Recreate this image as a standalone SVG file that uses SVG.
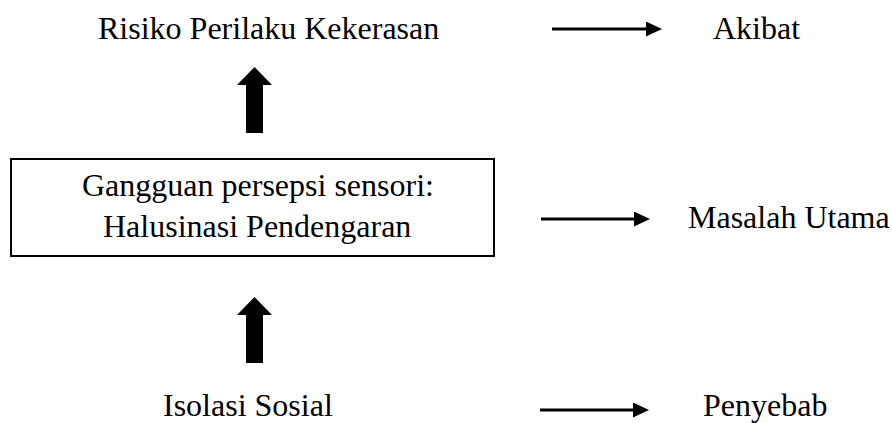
<svg xmlns="http://www.w3.org/2000/svg" width="892" height="423" viewBox="0 0 892 423">
<defs>
<style>
text{font-family:"Liberation Serif","Times New Roman",serif;font-size:32px;fill:#000}
.ln{stroke:#000;stroke-width:3;fill:none}
.blk{fill:#000}
</style>
<marker id="ah" markerUnits="userSpaceOnUse" markerWidth="16" markerHeight="15" refX="0" refY="7.5" orient="auto">
<path d="M0,0 L16,7.5 L0,15 z" fill="#000"/>
</marker>
</defs>
<rect width="892" height="423" fill="#fff"/>
<g id="risiko"><text x="98" y="39">Risiko Perilaku Kekerasan</text></g>
<g id="akibat"><text x="713" y="39">Akibat</text></g>
<g id="gangguan">
<rect x="11" y="159" width="483" height="97" fill="#fff" stroke="#000" stroke-width="2"/>
<text x="82" y="196">Gangguan persepsi sensori:</text>
<text x="103" y="237">Halusinasi Pendengaran</text>
</g>
<g id="masalah"><text x="688" y="228">Masalah Utama</text></g>
<g id="isolasi"><text x="163" y="416">Isolasi Sosial</text></g>
<g id="penyebab"><text x="703" y="416">Penyebab</text></g>
<g id="connectors">
<polygon class="blk" points="254.5,67 272,85 263,85 263,133 246,133 246,85 237,85"/>
<polygon class="blk" points="254.5,297 272,315 263,315 263,363 246,363 246,315 237,315"/>
<line class="ln" x1="552" y1="29" x2="646" y2="29" marker-end="url(#ah)"/>
<line class="ln" x1="541" y1="219" x2="634" y2="219" marker-end="url(#ah)"/>
<line class="ln" x1="540" y1="410" x2="633" y2="410" marker-end="url(#ah)"/>
</g>
</svg>
